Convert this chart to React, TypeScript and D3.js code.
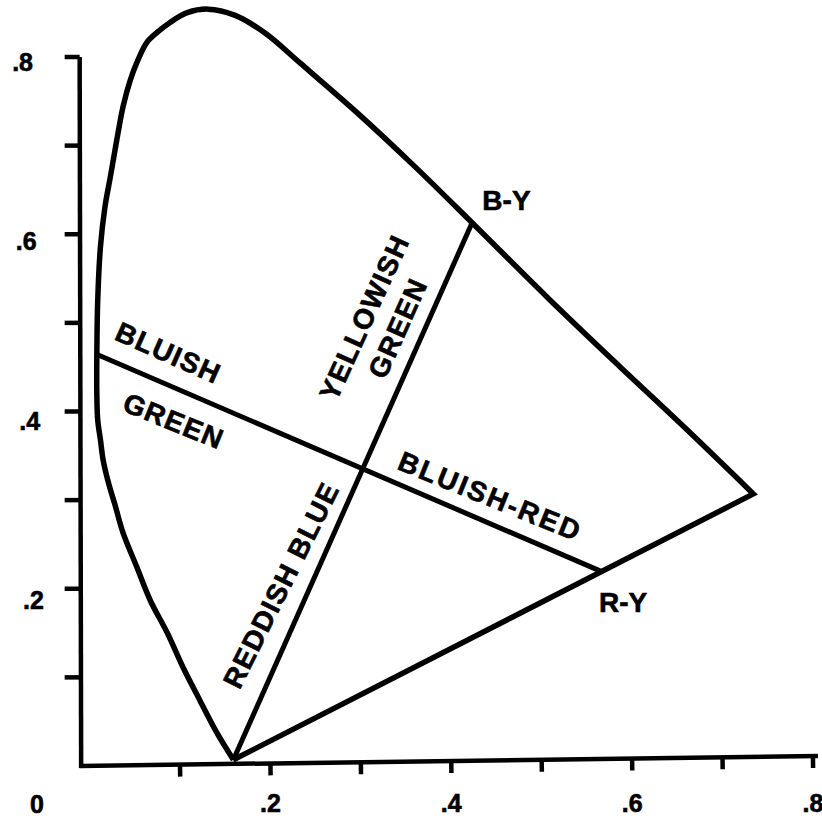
import React from "react";
import * as d3 from "d3";

// spectrum locus: from the violet apex up the left side,
// round the top and down the right side to the red end
const locusX = [
  0.159, 0.141, 0.122, 0.103, 0.086, 0.067, 0.052, 0.037, 0.028, 0.021, 0.015,
  0.012, 0.009, 0.008, 0.008, 0.009, 0.012, 0.017, 0.023, 0.03, 0.037, 0.045,
  0.052, 0.063, 0.075, 0.089, 0.108, 0.131, 0.161, 0.194, 0.233, 0.296, 0.358,
  0.423, 0.506, 0.587, 0.661, 0.734,
];
const locusY = [
  0.007, 0.037, 0.074, 0.112, 0.15, 0.187, 0.225, 0.263, 0.295, 0.319, 0.345,
  0.368, 0.39, 0.419, 0.464, 0.526, 0.586, 0.631, 0.665, 0.706, 0.744, 0.774,
  0.793, 0.816, 0.828, 0.839, 0.85, 0.854, 0.847, 0.827, 0.793, 0.737, 0.678,
  0.613, 0.529, 0.45, 0.379, 0.307,
];

// B-Y axis (apex to locus) and bluish green / bluish red axis
const byX = [0.159, 0.423];
const byY = [0.007, 0.613];
const grX = [0.009, 0.567];
const grY = [0.464, 0.219];

const axisTicks = [0.1, 0.2, 0.3, 0.4, 0.5, 0.6, 0.7, 0.8];
const labelledTicks = [0.2, 0.4, 0.6, 0.8];

const labelText = ["BLUISH", "GREEN", "YELLOWISH", "GREEN", "REDDISH BLUE", "BLUISH-RED", "B-Y", "R-Y"];
const labelX = [0.087, 0.093, 0.304, 0.341, 0.212, 0.443, 0.461, 0.59];
const labelY = [0.466, 0.389, 0.506, 0.494, 0.204, 0.304, 0.638, 0.184];
const labelAngle = [24, 22, -65.5, -66, -63.5, 22, 0, 0];

const W = 822;
const H = 818;

const App = () => {
  const x = d3.scaleLinear().domain([0, 0.8]).range([89.6, 813]);
  const y = d3.scaleLinear().domain([0, 0.8]).range([766, 57]);
  const fmt = (v: number) => d3.format(".1f")(v).replace(/^0/, "");

  const pts: [number, number][] = locusX.map((v, i) => [x(v), y(locusY[i])]);
  const curve = d3.line().curve(d3.curveCatmullRom.alpha(0.5))(pts);
  // close with the straight line of purples back to the apex
  const locusPath = `${curve}L${pts[0][0]},${pts[0][1]}Z`;

  const seg = (xs: number[], ys: number[]) =>
    d3.line()(xs.map((v, i) => [x(v), y(ys[i])] as [number, number])) as string;

  const axisX = x(-0.011);
  const axisY = y(0);
  const font = "'Liberation Sans', Arial, Helvetica, sans-serif";
  const textProps = {
    fontFamily: font,
    fontWeight: "bold",
    stroke: "#000",
    strokeWidth: 0.6,
  };

  return (
    <svg
      width={W}
      height={H}
      style={{ position: "absolute", left: 0, top: 0, background: "#fff" }}
    >
      <g fill="none" stroke="#000" strokeLinejoin="miter">
        <path d={locusPath} strokeWidth={5.5} />
        <path d={seg(byX, byY)} strokeWidth={5} />
        <path d={seg(grX, grY)} strokeWidth={5} />
      </g>

      {/* y axis */}
      <g stroke="#000" strokeWidth={4.5}>
        <line x1={axisX} x2={axisX + 1.5} y1={y(0.8)} y2={axisY + 2} />
        {axisTicks.map((t) => (
          <line key={t} x1={axisX - 15} x2={axisX} y1={y(t)} y2={y(t)} />
        ))}
      </g>
      {labelledTicks.map((t) => (
        <text
          key={t}
          x={33 + (0.8 - t) * 18}
          y={y(t) + 5 + (0.8 - t) * 10}
          textAnchor="end"
          dominantBaseline="central"
          fontSize={25}
          {...textProps}
        >
          {fmt(t)}
        </text>
      ))}

      {/* x axis, slightly skewed like the scan */}
      <g stroke="#000" strokeWidth={4.5} transform={`rotate(-0.78 ${axisX} ${axisY})`}>
        <line x1={axisX} x2={818} y1={axisY} y2={axisY} />
        {axisTicks.map((t) => (
          <line key={t} x1={x(t)} x2={x(t)} y1={axisY} y2={axisY + 12} />
        ))}
      </g>
      {labelledTicks.map((t) => (
        <text key={t} x={x(t)} y={812} textAnchor="middle" fontSize={25} {...textProps}>
          {fmt(t)}
        </text>
      ))}
      <text x={37} y={813} textAnchor="middle" fontSize={25} {...textProps}>
        0
      </text>

      {labelText.map((s, i) => (
        <text
          key={i}
          transform={`translate(${x(labelX[i])},${y(labelY[i])}) rotate(${labelAngle[i]})`}
          textAnchor="middle"
          dominantBaseline="central"
          fontSize={28}
          letterSpacing={s === "BLUISH-RED" ? 2.3 : s.length < 4 ? 0 : 1.3}
          {...textProps}
        >
          {s}
        </text>
      ))}
    </svg>
  );
};

export default App;
